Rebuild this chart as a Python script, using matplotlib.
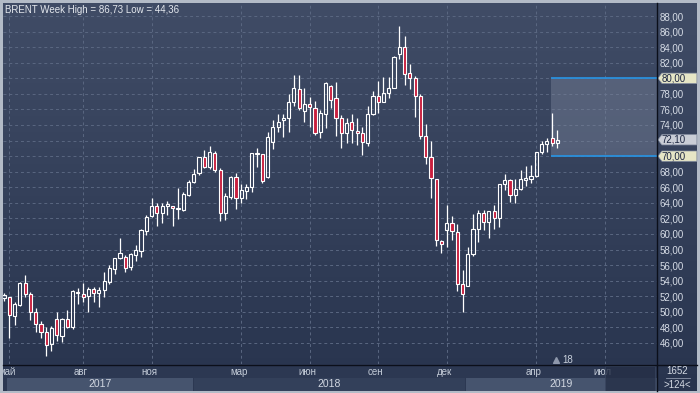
import matplotlib
matplotlib.use('Agg')
import matplotlib.pyplot as plt
import matplotlib.transforms as mtransforms
import numpy as np
from matplotlib.patches import Rectangle, Polygon
from matplotlib.lines import Line2D
from matplotlib.ticker import FuncFormatter

# weekly Brent candles, week of 24.04.2017 .. week of 29.04.2019
opens = [51.80, 51.87, 49.52, 50.89, 53.76, 52.26, 49.95, 48.45, 47.38, 45.84,
         49.05, 46.91, 49.05, 48.02, 52.60, 52.30, 52.04, 52.94, 52.39, 52.82,
         53.89, 55.47, 56.88, 57.01, 55.73, 57.31, 57.87, 60.44, 62.36, 63.65,
         62.66, 63.65, 63.65, 63.26, 63.09, 65.02, 66.64, 67.80, 69.85, 68.66,
         70.37, 68.23, 62.66, 64.80, 67.29, 64.59, 65.57, 66.00, 70.45, 70.24,
         67.29, 71.78, 73.71, 74.65, 74.96, 77.00, 78.64, 75.85, 76.67, 76.24,
         73.07, 75.38, 79.07, 77.44, 74.87, 72.94, 74.36, 73.24, 72.94, 71.74,
         75.43, 77.74, 77.01, 78.08, 78.81, 83.09, 83.99, 80.65, 80.01, 77.74,
         72.61, 69.95, 67.04, 59.04, 60.53, 61.39, 60.23, 53.56, 53.26, 57.41,
         60.62, 62.67, 61.52, 62.89, 62.03, 66.40, 66.96, 65.03, 65.76, 66.96,
         67.04, 67.51, 70.51, 71.54, 72.39, 71.66]
highs = [52.40, 51.96, 51.32, 53.84, 54.70, 52.60, 50.46, 48.88, 48.11, 48.19,
         49.95, 49.26, 50.25, 52.82, 53.03, 53.67, 53.16, 53.16, 53.24, 55.08,
         56.03, 56.88, 59.45, 57.31, 57.61, 58.59, 60.61, 62.45, 64.59, 63.95,
         64.03, 64.29, 63.65, 65.96, 65.36, 66.94, 68.36, 69.94, 70.80, 71.31,
         70.71, 68.44, 65.23, 67.46, 67.80, 66.39, 66.39, 70.45, 71.01, 70.24,
         73.15, 74.65, 75.38, 75.38, 78.00, 80.43, 80.43, 78.80, 77.57, 77.10,
         75.94, 79.58, 79.15, 79.50, 75.30, 74.87, 75.38, 74.87, 73.80, 76.45,
         78.38, 79.66, 80.22, 80.22, 82.92, 86.73, 85.44, 81.80, 80.35, 78.00,
         74.15, 71.96, 67.04, 59.25, 63.74, 62.33, 61.26, 55.40, 58.39, 62.59,
         63.10, 63.02, 62.97, 63.74, 66.40, 67.68, 67.04, 67.04, 68.24, 68.75,
         68.88, 70.59, 71.96, 72.39, 75.60, 73.38]
lows = [51.40, 46.69, 48.32, 50.80, 51.96, 48.96, 47.46, 46.69, 44.36, 44.98,
        46.31, 46.18, 47.89, 47.76, 50.97, 51.32, 50.03, 51.32, 50.59, 51.96,
        53.59, 54.83, 56.75, 55.17, 55.38, 56.58, 57.01, 59.88, 62.23, 61.08,
        61.46, 62.45, 61.08, 61.93, 62.96, 64.89, 66.52, 67.59, 68.44, 68.36,
        67.93, 61.72, 61.81, 64.50, 63.22, 64.03, 64.46, 65.45, 68.66, 66.60,
        67.16, 70.88, 73.15, 72.42, 73.07, 76.50, 75.94, 74.44, 73.80, 72.73,
        72.39, 73.67, 76.24, 72.64, 71.10, 71.74, 71.74, 71.45, 70.16, 71.36,
        75.30, 75.60, 76.92, 77.44, 78.72, 82.49, 79.15, 78.64, 75.08, 72.17,
        69.01, 64.60, 58.48, 57.54, 58.39, 59.25, 52.74, 49.92, 53.26, 57.11,
        58.91, 60.53, 59.46, 60.62, 60.88, 65.67, 64.17, 64.04, 65.67, 66.18,
        66.53, 67.30, 70.30, 70.59, 71.24, 71.02]
closes = [52.10, 49.60, 50.97, 53.76, 52.30, 49.95, 48.45, 47.38, 45.75, 47.89,
          47.04, 49.05, 48.02, 52.69, 52.39, 51.96, 52.94, 52.39, 52.82, 53.97,
          55.60, 56.88, 57.52, 55.60, 57.44, 57.95, 60.52, 62.23, 63.65, 62.66,
          63.65, 63.86, 63.30, 63.39, 65.10, 66.64, 67.67, 69.85, 68.66, 70.50,
          68.23, 62.66, 64.89, 67.29, 64.59, 65.66, 66.00, 70.37, 70.24, 66.86,
          72.51, 73.71, 74.43, 74.95, 77.00, 78.72, 76.24, 76.67, 76.37, 72.94,
          75.51, 79.36, 77.22, 74.87, 72.94, 74.31, 73.37, 72.94, 71.79, 75.38,
          77.74, 77.01, 78.08, 78.81, 82.79, 83.99, 80.52, 80.01, 77.74, 72.60,
          69.95, 67.17, 59.25, 58.69, 61.39, 60.32, 53.60, 52.32, 57.41, 60.62,
          62.67, 61.52, 62.97, 62.03, 66.40, 66.96, 65.03, 65.76, 67.04, 67.17,
          67.51, 70.51, 71.54, 71.96, 71.66, 72.10]

month_weeks = [1, 15, 28, 45, 58, 71, 84, 101, 114]
month_labels = ['май', 'авг', 'ноя', 'мар', 'июн', 'сен', 'дек', 'апр', 'июл']
year_labels = ['2017', '2018', '2019']
year_starts = [0.6, 36.0, 87.7]
year_ends = [35.8, 87.5, 123.9]
price_ticks = list(range(46, 89, 2))

title = 'BRENT Week High = 86,73 Low = 44,36'
zone_low, zone_high = 70.0, 80.0
zone_start = 103.8
last_price = 72.10
week_number = '18'

W, H = 700, 393


def px(l, t, r, b):
    return [l / W, 1 - b / H, (r - l) / W, (b - t) / H]


def price_fmt(v, pos):
    # labels hidden under the price flags
    if round(v) in (int(zone_low), int(zone_high), int(last_price)):
        return ''
    return f'{v:.2f}'.replace('.', ',')


plt.rcParams['font.family'] = ['Liberation Sans', 'DejaVu Sans']

fig = plt.figure(figsize=(7, 3.93), dpi=100)
fig.patch.set_facecolor('#b3bbc7')

# background gradient
bg = fig.add_axes(px(3, 3, 697, 391))
grad = np.linspace(0, 1, 256)[:, None, None]
top = np.array([64, 76, 102]) / 255
bot = np.array([40, 52, 78]) / 255
bg.imshow(top + (bot - top) * grad, aspect='auto', extent=[0, 1, 0, 1], interpolation='bilinear')
bg.axis('off')

# main chart
ax = fig.add_axes(px(3, 3, 657, 364))
ax.set_facecolor('none')
ax.set_xlim(-0.2, 123.9)
ax.set_ylim(43.3, 89.67)
for s in ax.spines.values():
    s.set_visible(False)
ax.set_axisbelow(True)
ax.set_xticks(month_weeks)
ax.set_xticklabels([])
ax.tick_params(axis='x', length=0)
ax.yaxis.tick_right()
ax.set_yticks(price_ticks)
ax.yaxis.set_major_formatter(FuncFormatter(price_fmt))
ax.tick_params(axis='y', length=0, pad=2, labelsize=7, labelcolor='#d6dce6')
ax.grid(True, color='#5a6781', linestyle=(0, (3, 3)), linewidth=0.7)

# zone 70..80
xmax = ax.get_xlim()[1]
ax.add_patch(Rectangle((zone_start, zone_low), xmax - zone_start, zone_high - zone_low,
                       facecolor='#7d879e', alpha=0.42, edgecolor='none', zorder=1))
ax.hlines([zone_low, zone_high], zone_start, xmax, color='#2a90dc', lw=1.3, zorder=2)

# candles
x = np.arange(len(closes))
o = np.array(opens)
c = np.array(closes)
h = np.array(highs)
l = np.array(lows)
body_top = np.maximum(o, c)
body_bot = np.minimum(o, c)
ax.vlines(x, body_top, h, color='white', lw=0.9, zorder=3)
ax.vlines(x, l, body_bot, color='white', lw=0.9, zorder=3)
down = c < o
heights = np.maximum(body_top - body_bot, 0.12)
ax.bar(x[down], heights[down], bottom=body_bot[down], width=0.6,
       color='#c81f3e', edgecolor='white', linewidth=0.8, zorder=4)
ax.bar(x[~down], heights[~down], bottom=body_bot[~down], width=0.6,
       facecolor='none', edgecolor='white', linewidth=0.8, zorder=4)

# current week marker
ax.plot(x[-1] - 0.3, 43.75, marker='^', ms=4, color='#8e98ac', zorder=5, clip_on=False)
ax.text(x[-1] + 1.0, 43.75, week_number, fontsize=7, color='#c8d0dc', va='center', ha='left')

# price flags on the right axis
trans = mtransforms.blended_transform_factory(ax.transAxes, ax.transData)
for price, fc in [(zone_high, '#e6e6c6'), (last_price, '#c9cdd6'), (zone_low, '#e6e6c6')]:
    hh = 0.66
    pts = [(1.0015, price), (1.0075, price + hh), (1.061, price + hh),
           (1.061, price - hh), (1.0075, price - hh)]
    ax.add_patch(Polygon(pts, closed=True, transform=trans, facecolor=fc,
                         edgecolor='#8a93a6', lw=0.5, clip_on=False, zorder=6))
    ax.text(1.0065, price, f'{price:.2f}'.replace('.', ','), transform=trans,
            fontsize=7, color='#1c2642', va='center', ha='left', zorder=7, clip_on=False)

# time axis
ax_t = fig.add_axes(px(3, 364, 657, 391))
ax_t.set_facecolor('#2c3852')
ax_t.set_xlim(ax.get_xlim())
ax_t.set_ylim(0, 1)
ax_t.set_xticks([])
ax_t.set_yticks([])
for s in ax_t.spines.values():
    s.set_visible(False)
for i, (s0, s1) in enumerate(zip(year_starts, year_ends)):
    fc = '#46546e' if i != 1 else '#33405a'
    ax_t.add_patch(Rectangle((s0, 0), s1 - s0, 0.48, facecolor=fc, edgecolor='none'))
    ax_t.text((s0 + s1) / 2, 0.25, year_labels[i], fontsize=7.5, color='#d2d8e2',
              ha='center', va='center')
for wk, lab in zip(month_weeks, month_labels):
    ax_t.text(wk - 0.5, 0.71, lab, fontsize=7, color='#c4ccd8', ha='center', va='center', clip_on=True)
ax_t.add_patch(Rectangle((114.0, 0.0), 9.5, 0.93, facecolor='#252f46', edgecolor='#3a4660',
                         lw=0.6, alpha=0.8, zorder=5))

# frame lines and bottom-right counters
fig.add_artist(Line2D([657 / W, 657 / W], [1 - 3 / H, 1 - 391 / H], color='#0b0f1a', lw=1))
fig.add_artist(Line2D([3 / W, 697 / W], [1 - 364.5 / H, 1 - 364.5 / H], color='#0b0f1a', lw=1))
fig.add_artist(Line2D([666 / W, 690 / W], [1 - 378 / H, 1 - 378 / H], color='#8c96aa', lw=0.6))
fig.text(677 / W, 1 - 371 / H, '1652', fontsize=7, color='#d2d8e2', ha='center', va='center')
fig.text(677 / W, 1 - 384.5 / H, '>124<', fontsize=7, color='#d2d8e2', ha='center', va='center')

fig.text(5 / W, 1 - 10 / H, title, fontsize=7, color='#e4e8ee', ha='left', va='center')

fig.savefig('out.png', dpi=100, facecolor=fig.get_facecolor())
